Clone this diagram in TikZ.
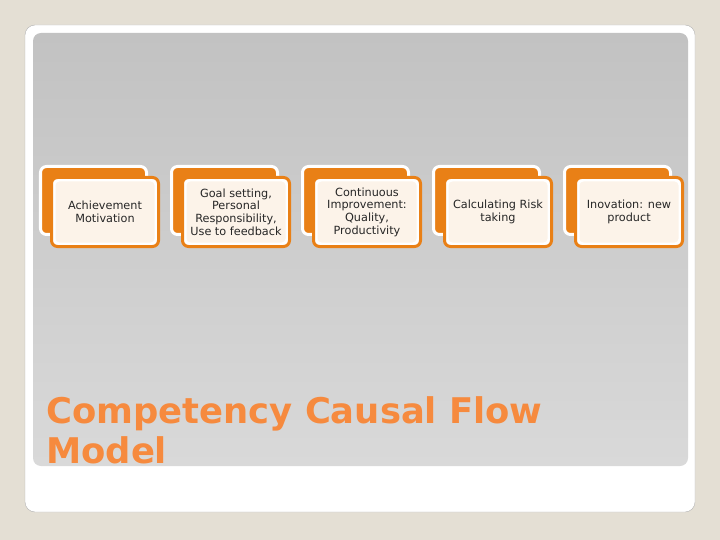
\documentclass[tikz,border=0pt]{standalone}
\usepackage{fontspec}
\setmainfont{DejaVu Sans}
\usetikzlibrary{positioning}
\definecolor{pagebg}{RGB}{228,223,212}
\definecolor{boxorange}{RGB}{233,128,22}
\definecolor{boxcream}{RGB}{252,243,233}
\definecolor{titleorange}{RGB}{246,138,62}
\definecolor{panelgrey}{RGB}{194,194,194}
\definecolor{panellight}{RGB}{217,217,217}

\begin{document}
\begin{tikzpicture}[x=1bp, y=-1bp,
    back/.style={draw=white, fill=boxorange, line width=3bp, rounded corners=6bp,
      minimum width=106bp, minimum height=68bp, inner sep=0pt, outer sep=0pt},
    front/.style={draw=boxorange, fill=white, line width=3bp, rounded corners=6bp,
      minimum width=107bp, minimum height=69bp, inner sep=0pt, outer sep=0pt,
      align=center, text=black!85, font=\fontsize{11.3}{12.7}\selectfont,
      path picture={\fill[boxcream, rounded corners=4bp]
        ([xshift=4bp,yshift=-4bp]path picture bounding box.north west) rectangle
        ([xshift=-4bp,yshift=4bp]path picture bounding box.south east);}},
    title/.style={anchor=north west, inner sep=0pt, align=left, text=titleorange,
      font=\fontsize{35.5}{41}\selectfont\bfseries}]
    % slide
    \fill[pagebg] (0,0) rectangle (720,540);
    \useasboundingbox (0,0) rectangle (720,540);
    \draw[fill=white, draw=black!30, rounded corners=10bp] (25,25) rectangle (695,512);
    \shade[top color=panelgrey, bottom color=panellight, rounded corners=8bp] (33,33) rectangle (688,466);

    % back cards
    \node[back] (back 1) at (93.5,200.5) {};
    \node[back, right=25bp of back 1] (back 2) {};
    \node[back, right=25bp of back 2] (back 3) {};
    \node[back, right=25bp of back 3] (back 4) {};
    \node[back, right=25bp of back 4] (back 5) {};

    % front cards
    \node[front] (achievement) at ([shift={(11.5,11.5)}]back 1.center) {Achievement\\Motivation};
    \node[front] (goal setting) at ([shift={(11.5,11.5)}]back 2.center) {Goal setting,\\Personal\\Responsibility,\\Use to feedback};
    \node[front] (improvement) at ([shift={(11.5,11.5)}]back 3.center) {Continuous\\Improvement:\\Quality,\\Productivity};
    \node[front] (risk taking) at ([shift={(11.5,11.5)}]back 4.center) {Calculating Risk\\taking};
    \node[front] (innovation) at ([shift={(11.5,11.5)}]back 5.center) {Inovation: new\\product};

    \node[title] (title) at (46,396) {Competency Causal Flow\\Model};
\end{tikzpicture}
\end{document}
